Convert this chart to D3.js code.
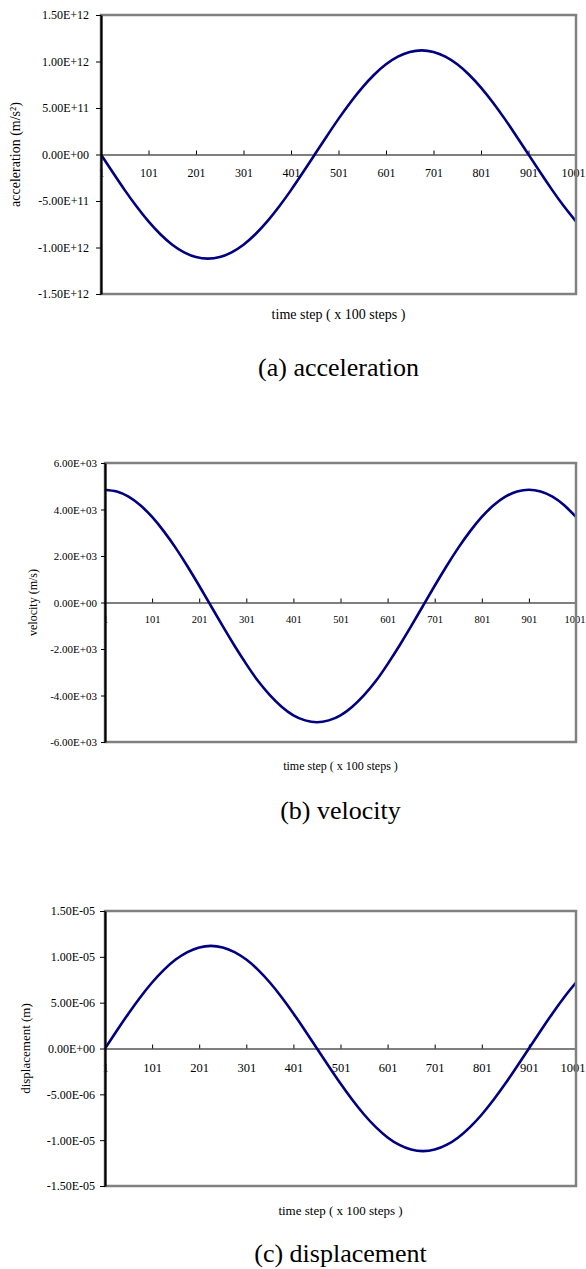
<!DOCTYPE html>
<html>
<head>
<meta charset="utf-8">
<script src="https://cdn.jsdelivr.net/npm/d3@7"></script>
<style>
  body { margin: 0; background: #fff; }
  svg text { font-family: "Liberation Serif", "Times New Roman", serif; fill: #000; }
</style>
</head>
<body>
<div id="chart"></div>
<script>

// time steps sampled every 25 (x 100 steps)
const steps = [1, 26, 51, 76, 101, 126, 151, 176, 201, 226, 251, 276, 301, 326,
  351, 376, 401, 426, 451, 476, 501, 526, 551, 576, 601, 626, 651, 676, 701,
  726, 751, 776, 801, 826, 851, 876, 901, 926, 951, 976, 1001];
const xTicks = [1, 101, 201, 301, 401, 501, 601, 701, 801, 901, 1001];

// (a) acceleration, m/s^2
const acceleration = [0, -1.94e11, -3.83e11, -5.60e11, -7.20e11, -8.58e11,
  -9.70e11, -1.052e12, -1.103e12, -1.12e12, -1.103e12, -1.052e12, -9.70e11,
  -8.58e11, -7.20e11, -5.60e11, -3.83e11, -1.94e11, 0, 1.94e11, 3.83e11,
  5.60e11, 7.20e11, 8.58e11, 9.70e11, 1.052e12, 1.103e12, 1.12e12, 1.103e12,
  1.052e12, 9.70e11, 8.58e11, 7.20e11, 5.60e11, 3.83e11, 1.94e11, 0,
  -1.94e11, -3.83e11, -5.60e11, -7.20e11];
const accTicks = [-1.5e12, -1e12, -5e11, 0, 5e11, 1e12, 1.5e12];

// (b) velocity, m/s
const velocity = [4.85e3, 4.77e3, 4.55e3, 4.18e3, 3.68e3, 3.06e3, 2.35e3,
  1.56e3, 7.2e2, -1.5e2, -1.02e3, -1.86e3, -2.65e3, -3.38e3, -3.98e3, -4.48e3,
  -4.85e3, -5.07e3, -5.15e3, -5.07e3, -4.85e3, -4.48e3, -3.98e3, -3.38e3,
  -2.65e3, -1.86e3, -1.02e3, -1.5e2, 7.2e2, 1.56e3, 2.35e3, 3.06e3, 3.68e3,
  4.18e3, 4.55e3, 4.77e3, 4.85e3, 4.77e3, 4.55e3, 4.18e3, 3.68e3];
const velTicks = [-6e3, -4e3, -2e3, 0, 2e3, 4e3, 6e3];

// (c) displacement, m
const displacement = [0, 1.94e-6, 3.83e-6, 5.60e-6, 7.20e-6, 8.58e-6,
  9.70e-6, 1.052e-5, 1.103e-5, 1.12e-5, 1.103e-5, 1.052e-5, 9.70e-6, 8.58e-6,
  7.20e-6, 5.60e-6, 3.83e-6, 1.94e-6, 0, -1.94e-6, -3.83e-6, -5.60e-6,
  -7.20e-6, -8.58e-6, -9.70e-6, -1.052e-5, -1.103e-5, -1.12e-5, -1.103e-5,
  -1.052e-5, -9.70e-6, -8.58e-6, -7.20e-6, -5.60e-6, -3.83e-6, -1.94e-6, 0,
  1.94e-6, 3.83e-6, 5.60e-6, 7.20e-6];
const dispTicks = [-1.5e-5, -1e-5, -5e-6, 0, 5e-6, 1e-5, 1.5e-5];

// Excel style 0.00E+00
function sciFormat(v) {
  if (v === 0) return '0.00E+00';
  const parts = v.toExponential(2).split('e');
  const e = +parts[1];
  return parts[0] + 'E' + (e < 0 ? '-' : '+') + String(Math.abs(e)).padStart(2, '0');
}

class lineChart {

  constructor(opts) {
    this.svg = opts.svg;
    this.values = opts.values;
    this.yTicks = opts.yTicks;
    this.box = opts.box;
    this.style = opts.style;
    this.yTitle = opts.yTitle;
    this.caption = opts.caption;
    this.draw();
  }

  draw() {
    const b = this.box;
    this.plot = this.svg.append('g');

    this.xScale = d3.scaleLinear()
      .domain([1, 1001])
      .range([b.left, b.right]);

    this.yScale = d3.scaleLinear()
      .domain(d3.extent(this.yTicks))
      .range([b.bottom, b.top]);

    this.addXAxis();
    this.addLine();
    this.addBorder();
    this.addYAxis();
    this.addLabels();
  }

  addXAxis() {
    const s = this.style;
    const xAxis = d3.axisTop(this.xScale)
      .tickValues(xTicks)
      .tickSize(4)
      .tickSizeOuter(0)
      .tickFormat(d3.format('d'));

    const g = this.plot.append('g')
      .attr('transform', `translate(0,${this.yScale(0)})`)
      .call(xAxis);

    g.select('.domain').attr('stroke', '#000').attr('stroke-width', 1.2);
    g.selectAll('.tick line').attr('stroke', '#000');
    g.selectAll('.tick text')
      .attr('y', s.xLabelDy)
      .attr('dy', '0.35em')
      .style('font-size', s.xFont + 'px')
      .style('font-family', '"Liberation Serif", serif');

    // last label sits on the right border; keep it inside the page
    g.selectAll('.tick text')
      .filter(d => d === 1001)
      .attr('text-anchor', 'end')
      .attr('x', 585 - this.box.right);
  }

  addLine() {
    const line = d3.line()
      .x((d, i) => this.xScale(steps[i]))
      .y(d => this.yScale(d))
      .curve(d3.curveNatural);

    this.plot.append('path')
      .datum(this.values)
      .attr('fill', 'none')
      .attr('stroke', '#000080')
      .attr('stroke-width', 2.6)
      .attr('d', line);
  }

  addBorder() {
    const b = this.box;
    this.plot.append('rect')
      .attr('x', b.left)
      .attr('y', b.top)
      .attr('width', b.right - b.left)
      .attr('height', b.bottom - b.top)
      .attr('fill', 'none')
      .attr('stroke', '#808080')
      .attr('stroke-width', 2.5);
  }

  addYAxis() {
    const s = this.style;
    const yAxis = d3.axisLeft(this.yScale)
      .tickValues(this.yTicks)
      .tickSize(s.yTickSize)
      .tickSizeOuter(0)
      .tickPadding(s.yPad)
      .tickFormat(sciFormat);

    const g = this.plot.append('g')
      .attr('transform', `translate(${this.box.left},0)`)
      .call(yAxis);

    g.select('.domain').attr('stroke', '#000').attr('stroke-width', 2.2);
    g.selectAll('.tick line').attr('stroke', '#000');
    g.selectAll('.tick text')
      .style('font-size', s.yFont + 'px')
      .style('font-family', '"Liberation Serif", serif');
  }

  addLabels() {
    const b = this.box;
    const s = this.style;
    const cx = (b.left + b.right) / 2;

    // y-axis title
    this.plot.append('text')
      .attr('transform', `translate(${s.titleX},${(b.top + b.bottom) / 2}) rotate(-90)`)
      .attr('text-anchor', 'middle')
      .attr('dominant-baseline', 'central')
      .style('font-size', s.titleFont + 'px')
      .text(this.yTitle);

    // x-axis title
    this.plot.append('text')
      .attr('x', cx)
      .attr('y', s.timeY)
      .attr('text-anchor', 'middle')
      .attr('dominant-baseline', 'central')
      .style('font-size', s.timeFont + 'px')
      .text('time step ( x 100 steps )');

    // caption under the chart
    this.plot.append('text')
      .attr('x', cx)
      .attr('y', s.captionY)
      .attr('text-anchor', 'middle')
      .attr('dominant-baseline', 'central')
      .style('font-size', '26px')
      .text(this.caption);
  }

}

const svg = d3.select('#chart').append('svg')
  .attr('width', 586)
  .attr('height', 1269);

new lineChart({
  svg: svg,
  values: acceleration,
  yTicks: accTicks,
  yTitle: 'acceleration (m/s²)',
  caption: '(a) acceleration',
  box: { left: 101, right: 576, top: 15, bottom: 294 },
  style: { xFont: 12, xLabelDy: 18, yFont: 12, yTickSize: 5, yPad: 7,
    titleX: 15, titleFont: 14, timeY: 314, timeFont: 14, captionY: 367 }
});

new lineChart({
  svg: svg,
  values: velocity,
  yTicks: velTicks,
  yTitle: 'velocity (m/s)',
  caption: '(b) velocity',
  box: { left: 105, right: 576, top: 463, bottom: 742 },
  style: { xFont: 10.5, xLabelDy: 17, yFont: 11, yTickSize: 4, yPad: 4,
    titleX: 33, titleFont: 12, timeY: 766, timeFont: 12, captionY: 810 }
});

new lineChart({
  svg: svg,
  values: displacement,
  yTicks: dispTicks,
  yTitle: 'displacement (m)',
  caption: '(c) displacement',
  box: { left: 105, right: 576, top: 911, bottom: 1186 },
  style: { xFont: 12.5, xLabelDy: 19, yFont: 12, yTickSize: 5, yPad: 5,
    titleX: 25, titleFont: 13, timeY: 1210, timeFont: 13, captionY: 1253 }
});

</script>
</body>
</html>
